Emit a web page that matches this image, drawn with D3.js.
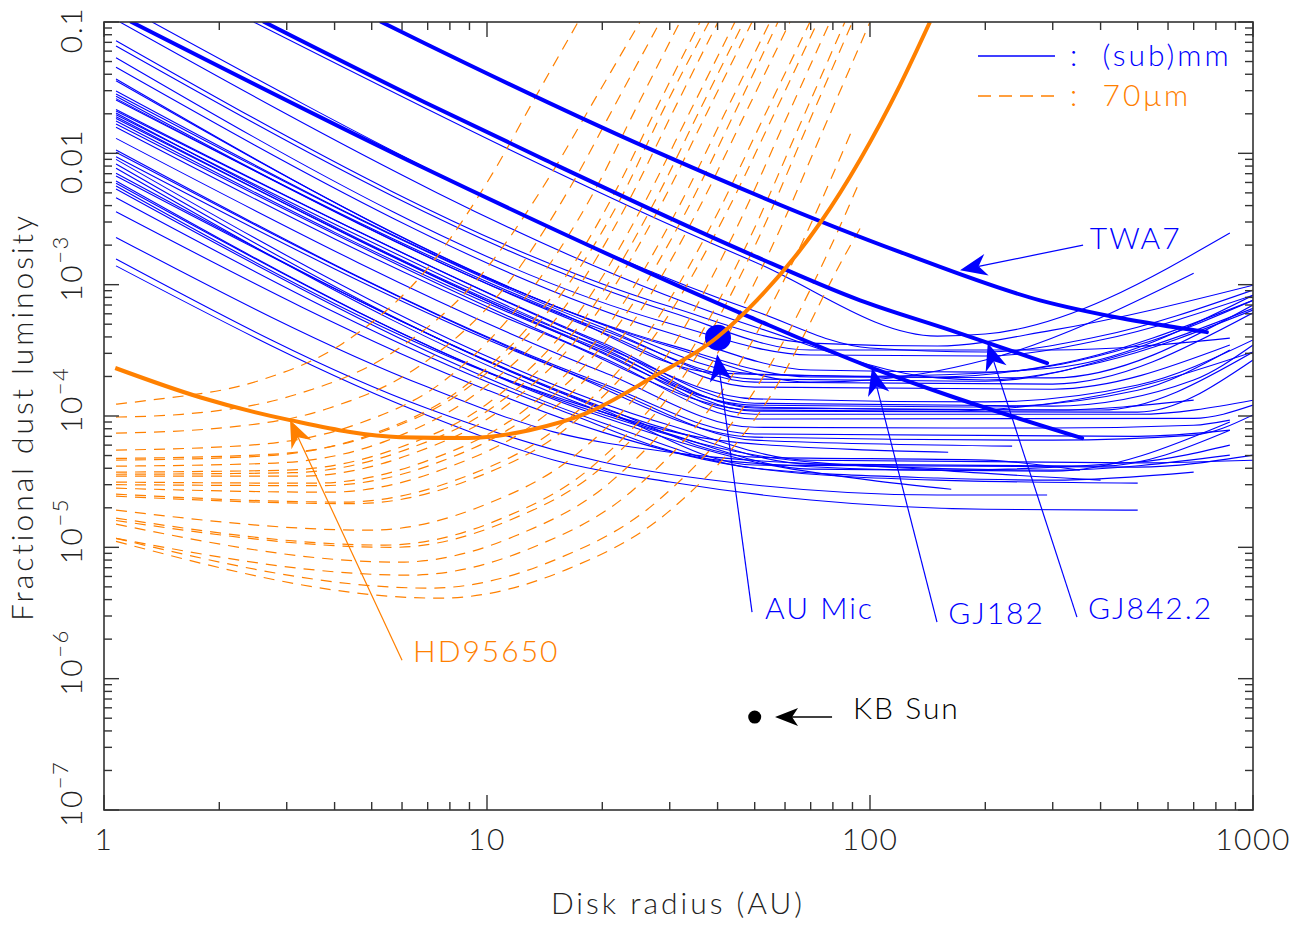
<!DOCTYPE html>
<html><head><meta charset="utf-8">
<script src="https://cdn.jsdelivr.net/npm/d3@7"></script>
<style>
body{margin:0;background:#fff;}
svg text{font-family:Lato,"DejaVu Sans",sans-serif;font-weight:300;}
</style></head><body>
<svg id="chart" width="1305" height="926"></svg>
<script>
// ---------------- data ----------------
const xTickValues = [1, 10, 100, 1000];
const xTickLabels = ["1", "10", "100", "1000"];
const yTickValues = [0.1, 0.01, 1e-3, 1e-4, 1e-5, 1e-6, 1e-7];
const yTickBase = ["0.1", "0.01", "10", "10", "10", "10", "10"];
const yTickExp = ["", "", "\u22123", "\u22124", "\u22125", "\u22126", "\u22127"];

// (sub)mm detection limits: [radius AU, fractional luminosity]
const submmCurves = [
 [[2.46,0.1],[50,1.49e-3],[150,4.06e-4],[200,4.21e-4],[870,2.47e-3]],
 [[1.335,0.1],[50,6.3e-4],[100,3.29e-4],[200,3.07e-4],[400,4.06e-4],[1000,9.1e-4]],
 [[1.10,0.1],[50,4.78e-4],[150,1.95e-4],[200,1.88e-4],[400,2.57e-4],[1000,6.4e-4]],
 [[1.075,0.0721],[30,6.81e-4],[70,3.59e-4],[150,3.41e-4],[300,4.51e-4],[1000,9.9e-4]],
 [[1.075,0.0656],[30,6.21e-4],[70,3.18e-4],[300,3.18e-4],[870,3.92e-4]],
 [[1.075,0.0535],[30,5.06e-4],[70,2.91e-4],[200,2.86e-4],[400,3.79e-4],[1000,8.3e-4]],
 [[1.075,0.0452],[30,4.28e-4],[70,2.24e-4],[200,2.16e-4],[500,3.47e-4],[1000,7.6e-4]],
 [[1.075,0.0368],[30,3.48e-4],[70,1.98e-4],[300,1.95e-4],[1000,7.0e-4]],
 [[1.075,0.0357],[30,3.38e-4],[70,1.81e-4],[100,1.88e-4],[200,2.67e-4],[700,1.22e-3]],
 [[1.075,0.0298],[20,4.98e-4],[50,2.09e-4],[150,1.98e-4],[300,2.44e-4],[1000,7.6e-4]],
 [[1.075,0.0283],[20,4.72e-4],[50,1.81e-4],[300,1.75e-4],[1000,6.1e-4]],
 [[1.075,0.0272],[20,4.53e-4],[50,1.91e-4],[200,1.84e-4],[500,3.18e-4],[1000,6.6e-4]],
 [[1.075,0.0261],[20,4.35e-4],[50,1.66e-4],[300,1.60e-4],[870,3.47e-4]],
 [[1.075,0.0255],[15,6.36e-4],[40,2.12e-4],[100,2.01e-4],[300,2.32e-4],[1000,8.3e-4]],
 [[1.075,0.0216],[20,3.61e-4],[50,1.25e-4],[300,1.19e-4],[700,1.88e-4],[1000,3.47e-4]],
 [[1.075,0.0210],[20,3.51e-4],[50,1.15e-4],[400,1.11e-4],[1000,3.07e-4]],
 [[1.075,0.0203],[20,3.38e-4],[50,1.35e-4],[200,1.28e-4],[500,1.72e-4],[1000,3.79e-4]],
 [[1.075,0.0197],[20,3.29e-4],[50,1.09e-4],[500,1.07e-4],[1000,2.67e-4]],
 [[1.075,0.0190],[20,3.18e-4],[50,1.17e-4],[300,1.11e-4],[700,1.32e-4]],
 [[1.075,0.0184],[20,3.07e-4],[50,1.03e-4],[500,1.03e-4],[1000,1.32e-4]],
 [[1.075,0.0176],[15,4.40e-4],[50,1.21e-4],[200,1.17e-4],[500,1.57e-4],[870,3.18e-4]],
 [[1.075,0.0167],[20,2.79e-4],[50,9.5e-5],[700,9.6e-5],[1000,1.21e-4]],
 [[1.075,0.0158],[15,3.94e-4],[50,1.11e-4],[150,1.09e-4],[400,1.44e-4],[1000,3.07e-4]],
 [[1.075,0.0130],[20,2.17e-4],[50,8.2e-5],[300,8.1e-5],[700,8.5e-5],[870,9.3e-5]],
 [[1.075,0.0106],[20,1.77e-4],[50,7.3e-5],[500,7.0e-5],[870,7.8e-5]],
 [[1.075,0.0102],[20,1.70e-4],[50,6.55e-5],[235,5.9e-5]],
 [[1.075,9.42e-3],[15,2.36e-4],[50,6.9e-5],[300,6.55e-5],[700,7.15e-5],[1000,1.02e-4]],
 [[1.075,9.0e-3],[30,8.5e-5],[70,4.6e-5],[500,4.4e-5],[1000,4.6e-5]],
 [[1.075,8.29e-3],[30,7.84e-5],[70,4.3e-5],[400,4.15e-5],[870,7.8e-5]],
 [[1.075,7.69e-3],[30,7.28e-5],[70,3.94e-5],[300,3.8e-5],[870,9.0e-5]],
 [[1.075,7.05e-3],[20,1.17e-4],[50,4.86e-5],[200,4.61e-5],[353,3.87e-5]],
 [[1.075,6.72e-3],[20,1.12e-4],[50,4.23e-5],[500,4.08e-5],[1000,5.04e-5]],
 [[1.075,6.15e-3],[20,1.03e-4],[50,5.04e-5],[150,3.87e-5],[400,3.25e-5]],
 [[1.075,5.91e-3],[20,9.86e-5],[50,4.46e-5],[100,3.25e-5],[163,2.77e-5]],
 [[1.075,5.64e-3],[15,1.41e-4],[40,6.55e-5],[100,5.5e-5],[160,5.3e-5]],
 [[1.075,5.35e-3],[20,8.9e-5],[50,4.0e-5],[150,3.37e-5],[300,3.25e-5],[700,3.74e-5]],
 [[1.075,4.59e-3],[15,1.15e-4],[40,4.61e-5],[150,3.87e-5],[500,4.46e-5],[870,6.0e-5]],
 [[1.075,3.59e-3],[10,1.58e-4],[20,7.54e-5],[50,4.0e-5],[150,3.25e-5],[500,3.08e-5]],
 [[1.075,2.29e-3],[7,1.66e-4],[15,7.54e-5],[30,5.31e-5],[100,4.15e-5],[300,3.87e-5],[870,5.04e-5]],
 [[1.075,1.57e-3],[7,1.14e-4],[20,4.46e-5],[50,2.98e-5],[150,2.5e-5],[290,2.5e-5]],
 [[1.075,1.39e-3],[7,1.01e-4],[15,4.61e-5],[30,3.14e-5],[70,2.29e-5],[200,1.95e-5],[500,1.92e-5]]
];

// 70 micron detection limits
const farIrCurves = [
 [[1.075,1.23e-4],[1.318,1.32e-4],[2.51,1.84e-4],[4.20,3.57e-4],[7.02,1.35e-3],[10.33,7.0e-3],[13.36,2.66e-2],[17.29,0.1]],
 [[1.075,9.82e-5],[1.598,1.03e-4],[3.18,1.46e-4],[5.52,2.90e-4],[9.57,1.15e-3],[14.47,6.44e-3],[19.05,2.53e-2],[25.08,0.1]],
 [[1.075,7.41e-5],[2.0,8.09e-5],[3.88,1.15e-4],[6.59,2.35e-4],[11.19,9.77e-4],[16.65,5.79e-3],[21.71,2.41e-2],[28.29,0.1]],
 [[1.075,5.50e-5],[2.41,6.0e-5],[4.59,8.69e-5],[7.70,1.84e-4],[12.91,8.72e-4],[19.03,5.09e-3],[24.64,2.28e-2],[31.9,0.1]],
 [[1.075,4.61e-5],[2.59,4.95e-5],[4.99,7.24e-5],[8.46,1.57e-4],[14.32,7.17e-4],[21.26,4.66e-3],[27.67,2.19e-2],[35.98,0.1]],
 [[1.075,4.75e-5],[2.7,5.1e-5],[5.2,7.4e-5],[8.8,1.6e-4],[15,7.2e-4],[22.4,4.6e-3],[29,2.2e-2],[38,0.1]],
 [[1.075,4.15e-5],[2.80,4.38e-5],[5.44,6.44e-5],[9.25,1.44e-4],[15.79,6.47e-4],[23.54,4.44e-3],[30.73,2.13e-2],[40.1,0.1]],
 [[1.075,3.74e-5],[3.0,3.87e-5],[5.89,5.73e-5],[10.1,1.26e-4],[17.3,6.05e-4],[25.9,4.32e-3],[33.9,2.08e-2],[44.4,0.1]],
 [[1.075,3.6e-5],[3.1,3.7e-5],[6.1,5.5e-5],[10.5,1.2e-4],[18.2,5.8e-4],[27.3,4.2e-3],[35.7,2.05e-2],[46.8,0.1]],
 [[1.075,3.48e-5],[3.25,3.48e-5],[6.41,5.19e-5],[11.03,1.15e-4],[19.01,5.65e-4],[28.57,4.14e-3],[37.5,2.03e-2],[49.2,0.1]],
 [[1.075,3.14e-5],[3.56,3.08e-5],[7.05,4.61e-5],[12.18,1.04e-4],[21.05,5.22e-4],[31.71,3.94e-3],[41.7,1.99e-2],[54.8,0.1]],
 [[1.075,3.0e-5],[3.7,2.95e-5],[7.4,4.4e-5],[12.8,1.0e-4],[22.2,5.1e-4],[33.5,3.85e-3],[44,1.95e-2],[57.5,0.1]],
 [[1.075,2.82e-5],[3.89,2.63e-5],[7.77,3.98e-5],[13.5,9.06e-5],[23.49,4.71e-4],[35.56,3.70e-3],[46.9,1.92e-2],[61.8,0.1]],
 [[1.075,2.54e-5],[4.26,2.21e-5],[8.57,3.37e-5],[14.98,7.81e-5],[26.2,4.21e-4],[39.9,3.45e-3],[52.7,1.86e-2],[69.7,0.1]],
 [[1.075,2.45e-5],[4.5,2.15e-5],[9.1,3.3e-5],[15.8,7.7e-5],[27.6,4.2e-4],[42,3.45e-3],[55.5,1.85e-2],[73,0.1]],
 [[1.075,1.92e-5],[4.95,1.35e-5],[9.88,2.11e-5],[17.18,5.15e-5],[29.87,3.06e-4],[45.2,2.83e-3],[59.6,1.68e-2],[78.6,0.1]],
 [[1.075,1.67e-5],[5.42,1.04e-5],[10.81,1.64e-5],[18.8,4.11e-5],[32.7,2.58e-4],[49.5,2.55e-3],[65.3,1.60e-2],[86.0,0.1]],
 [[1.075,1.6e-5],[5.7,1.0e-5],[11.4,1.6e-5],[19.8,4.0e-5],[34.4,2.55e-4],[52,2.5e-3],[68.5,1.6e-2],[90,0.1]],
 [[1.075,1.50e-5],[5.93,7.71e-6],[12.01,1.24e-5],[21.14,3.19e-5],[37.2,2.12e-4],[56.8,2.26e-3],[75.4,1.50e-2],[100,0.1]],
 [[1.075,1.17e-5],[6.29,6.14e-6],[13.15,9.97e-6],[23.7,2.63e-5],[42.7,1.83e-4],[66.4,2.07e-3],[89.2,1.44e-2]],
 [[1.075,1.17e-5],[7.10,4.89e-6],[15.05,8.03e-6],[27.45,2.17e-5],[50.1,1.58e-4],[78.6,1.89e-3],[94.2,6.21e-3]],
 [[1.075,1.11e-5],[7.54,4.10e-6],[16.18,6.80e-6],[29.8,1.87e-5],[54.9,1.41e-4],[86.8,1.76e-3],[95.3,2.84e-3]]
];

// highlighted curves
const twa7Curve   = [[5.3,0.1],[6.85,0.0692],[26.6,0.0108],[120,1.77e-3],[278,7.6e-4],[450,5.57e-4],[758,4.35e-4]];
const gj8422Curve = [[2.62,0.1],[6.85,0.0246],[14.2,8.9e-3],[48.6,1.71e-3],[94.2,7.6e-4],[162,4.51e-4],[290,2.53e-4]];
const gj182Curve  = [[1.18,0.1],[6.85,7.73e-3],[48.6,5.66e-4],[100,2.36e-4],[162,1.42e-4],[358,6.79e-5]];
const hd95650Curve = [[1.07,2.32e-4],[1.78,1.39e-4],[3.06,9.3e-5],[5.93,6.9e-5],[8.9,6.8e-5],[12.9,7.8e-5],[18.2,1.05e-4],[27.1,1.98e-4],[40,4.0e-4],[50.7,7.63e-4],[74.1,2.95e-3],[119.8,3.31e-2],[143.4,0.1]];
const auMicPoint = [40.1, 3.95e-4];
const kbSunPoint = [50, 5.1e-7];

// annotations: label, label anchor [r,f], arrow tail [r,f], arrow tip [r,f], colour
const annLabels = ["TWA7", "AU Mic", "GJ182", "GJ842.2", "HD95650", "KB Sun"];
const annText   = [[375,1.93e-3],[53.2,2.94e-6],[160,2.69e-6],[371,2.94e-6],[6.41,1.38e-6],[90.3,5.1e-7]];
const annTail   = [[360,2.0e-3],[49.2,3.21e-6],[149.6,2.69e-6],[347,2.94e-6],[6.0,1.38e-6],[79.6,5.1e-7]];
const annTip    = [[171.8,1.29e-3],[39.9,2.95e-4],[101.2,2.32e-4],[203,3.59e-4],[3.06,9.31e-5],[56.5,5.1e-7]];
const annColor  = ["#0000ff","#0000ff","#0000ff","#0000ff","#ff8000","#000000"];

const legendLabels = [":  (sub)mm", ":  70\u03bcm"];

// ---------------- drawing ----------------
const BLUE = "#0000ff", ORANGE = "#ff8000", AXIS = "#333";
const svg = d3.select("#chart");
const plot = {l:104, t:22, r:1253, b:810};
const x = d3.scaleLog().domain([1,1000]).range([plot.l, plot.r]);
const y = d3.scaleLog().domain([1e-7,0.1]).range([plot.b, plot.t]);

svg.append("rect").attr("width",1305).attr("height",926).attr("fill","#fff");
svg.append("clipPath").attr("id","clip").append("rect")
  .attr("x",plot.l).attr("y",plot.t).attr("width",plot.r-plot.l).attr("height",plot.b-plot.t);

const line = d3.line().x(d=>x(d[0])).y(d=>y(d[1])).curve(d3.curveMonotoneX);
const g = svg.append("g").attr("clip-path","url(#clip)");

g.selectAll(".sub").data(submmCurves).join("path")
  .attr("d",line).attr("fill","none").attr("stroke",BLUE).attr("stroke-width",1.1);
g.selectAll(".fir").data(farIrCurves).join("path")
  .attr("d",line).attr("fill","none").attr("stroke",ORANGE).attr("stroke-width",1.2)
  .attr("stroke-dasharray","11,8");
[twa7Curve, gj8422Curve, gj182Curve].forEach(c=>{
  g.append("path").attr("d",line(c)).attr("fill","none").attr("stroke",BLUE)
   .attr("stroke-width",4).attr("stroke-linecap","round");
});
g.append("circle").attr("cx",x(auMicPoint[0])).attr("cy",y(auMicPoint[1])).attr("r",13).attr("fill",BLUE);
g.append("path").attr("d",line(hd95650Curve)).attr("fill","none").attr("stroke",ORANGE)
  .attr("stroke-width",4);
g.append("circle").attr("cx",x(kbSunPoint[0])).attr("cy",y(kbSunPoint[1])).attr("r",6.5).attr("fill","#000");

// annotations
annLabels.forEach((lab,i)=>{
  const tx=x(annTail[i][0]), ty=y(annTail[i][1]);
  const px=x(annTip[i][0]), py=y(annTip[i][1]);
  const col=annColor[i];
  const dx=px-tx, dy=py-ty, len=Math.hypot(dx,dy), ux=dx/len, uy=dy/len, nx=-uy, ny=ux;
  const L = i===5?23:27, Wd = i===5?9:11, N = i===5?6:8;
  svg.append("line").attr("x1",tx).attr("y1",ty).attr("x2",px-ux*(L-N)).attr("y2",py-uy*(L-N))
    .attr("stroke",col).attr("stroke-width",i===5?1.6:1.2);
  const pts=[[px,py],[px-L*ux+Wd*nx,py-L*uy+Wd*ny],[px-(L-N)*ux,py-(L-N)*uy],[px-L*ux-Wd*nx,py-L*uy-Wd*ny]];
  svg.append("polygon").attr("points",pts.map(p=>p.join(",")).join(" ")).attr("fill",col);
  svg.append("text").attr("x",x(annText[i][0])).attr("y",y(annText[i][1])+2)
    .attr("fill",col).attr("font-size",30).attr("letter-spacing",2).text(lab);
});

// axes frame
svg.append("rect").attr("x",plot.l).attr("y",plot.t).attr("width",plot.r-plot.l).attr("height",plot.b-plot.t)
  .attr("fill","none").attr("stroke",AXIS).attr("stroke-width",1.6);
const isMajor = v => Math.abs(Math.log10(v)-Math.round(Math.log10(v)))<1e-9;
const tk = svg.append("g").attr("stroke",AXIS).attr("stroke-width",1.4);
x.ticks().forEach(v=>{
  const L = isMajor(v)?15:8, X=x(v);
  tk.append("line").attr("x1",X).attr("x2",X).attr("y1",plot.b).attr("y2",plot.b-L);
  tk.append("line").attr("x1",X).attr("x2",X).attr("y1",plot.t).attr("y2",plot.t+L);
});
y.ticks().forEach(v=>{
  const L = isMajor(v)?15:8, Y=y(v);
  tk.append("line").attr("y1",Y).attr("y2",Y).attr("x1",plot.l).attr("x2",plot.l+L);
  tk.append("line").attr("y1",Y).attr("y2",Y).attr("x1",plot.r).attr("x2",plot.r-L);
});

// tick labels
xTickValues.forEach((v,i)=>{
  svg.append("text").attr("x",x(v)).attr("y",850).attr("text-anchor","middle")
    .attr("font-size",30).attr("letter-spacing",1.5).attr("fill","#222").text(xTickLabels[i]);
});
yTickValues.forEach((v,i)=>{
  const Y=y(v);
  if(yTickExp[i]===""){
    svg.append("text").attr("transform",`translate(82,${Y+8}) rotate(-90)`).attr("text-anchor","middle")
      .attr("font-size",30).attr("letter-spacing",1.5).attr("fill","#222").text(yTickBase[i]);
  } else {
    const t=svg.append("text").attr("transform",`translate(82,${Y+17}) rotate(-90)`)
      .attr("font-size",30).attr("letter-spacing",1.5).attr("fill","#222");
    t.append("tspan").text(yTickBase[i]);
    t.append("tspan").attr("dy",-14).attr("font-size",22).text(yTickExp[i]);
  }
});

svg.append("text").attr("x",678).attr("y",914).attr("text-anchor","middle")
  .attr("font-size",30).attr("letter-spacing",3).attr("fill","#222").text("Disk radius (AU)");
svg.append("text").attr("transform","translate(33,417) rotate(-90)").attr("text-anchor","middle")
  .attr("font-size",30).attr("letter-spacing",3).attr("fill","#222").text("Fractional dust luminosity");

// legend
svg.append("line").attr("x1",978).attr("x2",1055).attr("y1",56).attr("y2",56).attr("stroke",BLUE).attr("stroke-width",1.3);
svg.append("line").attr("x1",978).attr("x2",1055).attr("y1",96).attr("y2",96).attr("stroke",ORANGE)
  .attr("stroke-width",1.3).attr("stroke-dasharray","13,8");
svg.append("text").attr("x",1070).attr("y",66).attr("fill",BLUE).attr("font-size",30).attr("letter-spacing",3)
  .attr("xml:space","preserve").style("white-space","pre").text(legendLabels[0]);
svg.append("text").attr("x",1070).attr("y",106).attr("fill",ORANGE).attr("font-size",30).attr("letter-spacing",3)
  .attr("xml:space","preserve").style("white-space","pre").text(legendLabels[1]);
</script></body></html>
